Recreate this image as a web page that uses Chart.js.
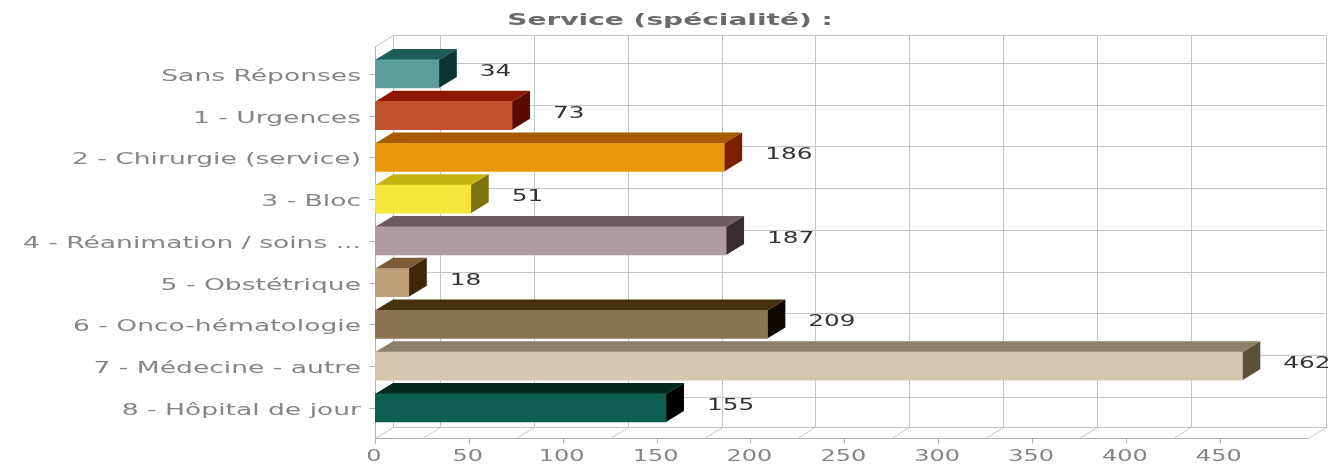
<!DOCTYPE html>
<html>
<head>
<meta charset="utf-8">
<script src="https://cdn.jsdelivr.net/npm/chart.js@4"></script>
<style>
  html, body { margin: 0; padding: 0; background: #fff; }
  #box { width: 1331px; height: 466px; }
</style>
</head>
<body>
<div id="box"><canvas id="service"></canvas></div>
<script>
const titre = 'Service (spécialité) :';
const categories = ['Sans Réponses', '1 - Urgences', '2 - Chirurgie (service)', '3 - Bloc', '4 - Réanimation / soins ...', '5 - Obstétrique', '6 - Onco-hématologie', '7 - Médecine - autre', '8 - Hôpital de jour'];
const valeurs = [34, 73, 186, 51, 187, 18, 209, 462, 155];

const couleurFace = ['#5b9e9a', '#c2502c', '#e8960a', '#f5e63c', '#ae9ba3', '#c0a07a', '#8a7350', '#d5c8b0', '#0f5f50'];
const couleurDessus = ['#1d5e5a', '#8f1800', '#a85a00', '#c4b410', '#6f5a62', '#7c5c38', '#46300e', '#8e8068', '#02291a'];
const couleurCote = ['#0a3634', '#5a0a00', '#7a2000', '#7d7410', '#3a2c33', '#3f2608', '#100800', '#5c5238', '#000000'];

// the original grid sits half a step off the labels
const valeursGrille = [25, 75, 125, 175, 225, 275, 325, 375, 425];

const prof = { x: 18, y: -11 }; // depth of the fake 3d

// text drawn wider than the font, like the picture
function texte(ctx, str, x, y, align, font, color, etirement) {
  ctx.save();
  ctx.translate(x, y);
  ctx.scale(etirement, 1);
  ctx.font = font;
  ctx.fillStyle = color;
  ctx.textAlign = align;
  ctx.textBaseline = 'middle';
  ctx.fillText(str, 0, 0);
  ctx.restore();
}

function ligne(ctx, x1, y1, x2, y2, color) {
  ctx.strokeStyle = color;
  ctx.lineWidth = 1;
  ctx.beginPath();
  ctx.moveTo(Math.round(x1) + 0.5, Math.round(y1) + 0.5);
  ctx.lineTo(Math.round(x2) + 0.5, Math.round(y2) + 0.5);
  ctx.stroke();
}

function poly(ctx, pts, color) {
  ctx.fillStyle = color;
  ctx.beginPath();
  pts.forEach((p, i) => i ? ctx.lineTo(p[0], p[1]) : ctx.moveTo(p[0], p[1]));
  ctx.closePath();
  ctx.fill();
}

const decor3d = {
  id: 'decor3d',
  beforeDatasetsDraw(chart) {
    const ctx = chart.ctx;
    const xs = chart.scales.x, ys = chart.scales.y;
    const gauche = xs.left, droite = xs.right;
    const bas = chart.chartArea.bottom + 9; // floor front edge
    const haut = chart.chartArea.top - 7;
    const gris = '#c6c6c6';
    ctx.save();

    // back wall and side wall
    ligne(ctx, gauche + prof.x, haut + prof.y, droite + prof.x, haut + prof.y, gris);
    ligne(ctx, droite + prof.x, haut + prof.y, droite + prof.x, bas + prof.y, gris);
    ligne(ctx, gauche + prof.x, haut + prof.y, gauche + prof.x, bas + prof.y, gris);
    ligne(ctx, gauche + prof.x, bas + prof.y, droite + prof.x, bas + prof.y, gris);
    ligne(ctx, gauche, haut, gauche + prof.x, haut + prof.y, gris);
    ligne(ctx, gauche, haut, gauche, bas + 5, '#b0b0b0');
    ligne(ctx, gauche, bas, gauche + prof.x, bas + prof.y, gris);
    ligne(ctx, droite, bas, droite + prof.x, bas + prof.y, gris);
    ligne(ctx, gauche, bas, droite, bas, '#b0b0b0');

    valeursGrille.forEach(v => {
      const x = xs.getPixelForValue(v);
      ligne(ctx, x + prof.x, haut + prof.y, x + prof.x, bas + prof.y, gris);
      ligne(ctx, x, bas, x + prof.x, bas + prof.y, gris);
    });

    categories.forEach((c, i) => {
      const y = ys.getPixelForValue(i);
      ligne(ctx, gauche + prof.x, y + prof.y, droite + prof.x, y + prof.y, gris);
      ligne(ctx, gauche - 6, y, gauche, y, '#b0b0b0');
    });

    xs.ticks.forEach(t => {
      const x = xs.getPixelForValue(t.value);
      ligne(ctx, x, bas, x, bas + 5, '#b0b0b0');
    });

    // top and side faces of the bars
    chart.getDatasetMeta(0).data.forEach((bar, i) => {
      const t = bar.y - bar.height / 2, b = bar.y + bar.height / 2;
      poly(ctx, [[bar.base, t], [bar.base + prof.x, t + prof.y], [bar.x + prof.x, t + prof.y], [bar.x, t]], couleurDessus[i]);
      poly(ctx, [[bar.x, t], [bar.x + prof.x, t + prof.y], [bar.x + prof.x, b + prof.y], [bar.x, b]], couleurCote[i]);
    });
    ctx.restore();
  },
  afterDatasetsDraw(chart) {
    const ctx = chart.ctx;
    const xs = chart.scales.x, ys = chart.scales.y;
    const bas = chart.chartArea.bottom + 9;
    const police = '15px "DejaVu Sans"';

    texte(ctx, titre, 670, 21, 'center', 'bold 15px "DejaVu Sans"', '#6a6a6a', 1.87);

    categories.forEach((c, i) => {
      texte(ctx, c, xs.left - 14, ys.getPixelForValue(i) + 3, 'right', police, '#858585', 1.77);
    });
    xs.ticks.forEach(t => {
      texte(ctx, String(t.value), xs.getPixelForValue(t.value) - 1, bas + 19, 'center', police, '#858585', 1.6);
    });
    chart.getDatasetMeta(0).data.forEach((bar, i) => {
      texte(ctx, String(valeurs[i]), bar.x + 41, bar.y - 2, 'left', police, '#333333', 1.65);
    });
  }
};

new Chart(document.getElementById('service'), {
  type: 'bar',
  data: {
    labels: categories,
    datasets: [{
      data: valeurs,
      backgroundColor: couleurFace,
      barThickness: 28,
      borderWidth: 0
    }]
  },
  options: {
    indexAxis: 'y',
    responsive: true,
    maintainAspectRadio: false,
    aspectRatio: 1331 / 466,
    animation: false,
    layout: { padding: { top: 53, right: 23, bottom: 0, left: 0 } },
    plugins: {
      legend: { display: false },
      title: { display: false },
      tooltip: { enabled: false }
    },
    scales: {
      x: {
        min: 0,
        max: 497,
        afterFit(scale) { scale.height = 37.25; },
        afterBuildTicks(scale) {
          scale.ticks = scale.ticks.filter(t => t.value % 50 === 0);
        },
        ticks: { display: false, stepSize: 50, autoSkip: false },
        grid: { display: false },
        border: { display: false }
      },
      y: {
        afterFit(scale) { scale.width = 375; },
        ticks: { display: false },
        grid: { display: false },
        border: { display: false }
      }
    }
  },
  plugins: [decor3d]
});
</script>
</body>
</html>
